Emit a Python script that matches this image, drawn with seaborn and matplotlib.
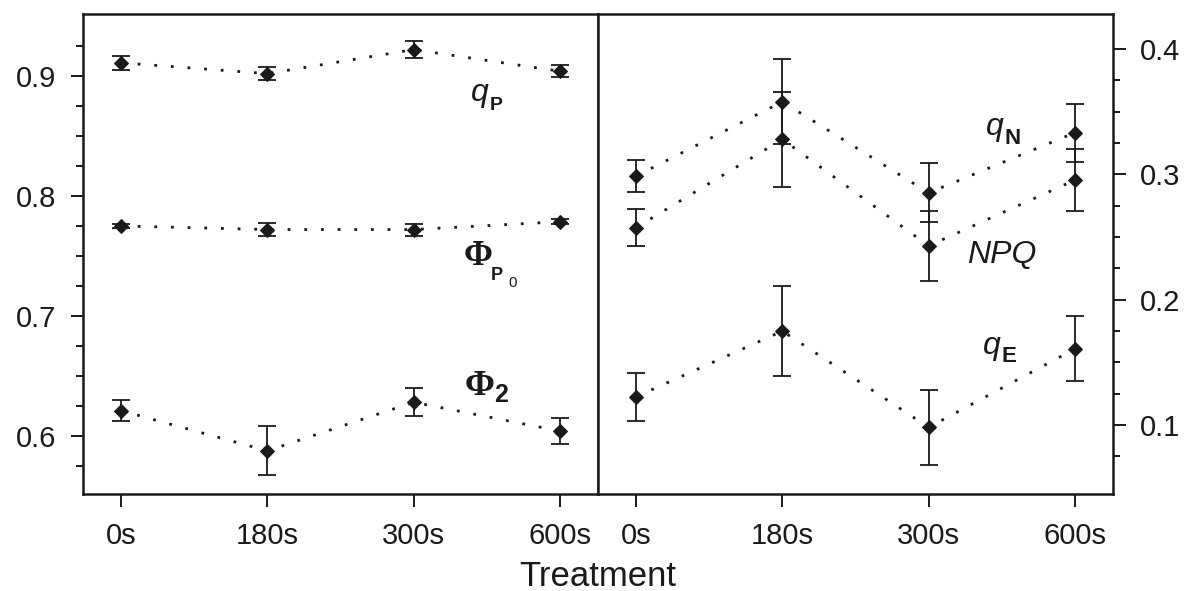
import numpy as np
import pandas as pd
import seaborn as sns
import matplotlib
matplotlib.use('Agg')
from matplotlib import pyplot as plt
from matplotlib.ticker import MultipleLocator, FixedLocator, FormatStrFormatter

# treatments (x categories)
times = ['0s', '180s', '300s', '600s']

# left panel: qP, PhiP0, Phi2 (mean, error)
qP = [0.911, 0.902, 0.922, 0.904]
qP_err = [0.006, 0.0055, 0.007, 0.005]
phiP0 = [0.775, 0.772, 0.772, 0.7785]
phiP0_err = [0.002, 0.0055, 0.005, 0.002]
phi2 = [0.621, 0.5875, 0.628, 0.604]
phi2_err = [0.009, 0.0205, 0.0115, 0.011]

# right panel: qN, NPQ, qE
qN = [0.2987, 0.358, 0.2853, 0.3333]
qN_err = [0.013, 0.034, 0.0235, 0.023]
NPQ = [0.2576, 0.328, 0.243, 0.2955]
NPQ_err = [0.015, 0.038, 0.028, 0.025]
qE = [0.1226, 0.175, 0.0982, 0.1608]
qE_err = [0.019, 0.036, 0.030, 0.026]

sns.set_theme(style='ticks')
plt.rcParams['font.family'] = ['Liberation Sans', 'DejaVu Sans']
plt.rcParams['text.color'] = 'k'

fig = plt.figure(figsize=(11.92, 5.91), dpi=100)
ax1 = fig.add_axes([83 / 1192, 1 - 494 / 591, 515 / 1192, 480 / 591])
ax2 = fig.add_axes([598 / 1192, 1 - 494 / 591, 515 / 1192, 480 / 591])

xpos = np.arange(len(times))


def draw(ax, vals, errs):
    df = pd.DataFrame({'x': xpos, 'y': vals})
    ax.errorbar(xpos, vals, yerr=errs, fmt='none', ecolor='k', elinewidth=1.3,
                capsize=6.5, capthick=1.3, zorder=2)
    sns.lineplot(data=df, x='x', y='y', ax=ax, color='k', linestyle=(0, (1, 5)),
                 linewidth=2, marker='D', markersize=7, markeredgecolor='k',
                 markerfacecolor='k', zorder=3)


draw(ax1, qP, qP_err)
draw(ax1, phiP0, phiP0_err)
draw(ax1, phi2, phi2_err)
draw(ax2, qN, qN_err)
draw(ax2, NPQ, NPQ_err)
draw(ax2, qE, qE_err)

ax1.set_ylim(0.5515, 0.9517)
ax2.set_ylim(0.045, 0.428)
ax1.yaxis.set_minor_locator(FixedLocator(np.arange(0.575, 0.94, 0.025)))
ax2.yaxis.set_minor_locator(FixedLocator(np.arange(0.075, 0.42, 0.025)))
for ax in (ax1, ax2):
    ax.set_xlim(-0.26, 3.26)
    ax.set_xticks(xpos)
    ax.set_xticklabels(times)
    ax.set_xlabel('')
    ax.set_ylabel('')
    ax.yaxis.set_major_locator(MultipleLocator(0.1))
    ax.yaxis.set_major_formatter(FormatStrFormatter('%.1f'))
    ax.tick_params(axis='both', which='major', direction='out', length=9,
                   width=1.4, labelsize=21, color='k', labelcolor='k')
    ax.tick_params(axis='y', which='minor', direction='out', length=5,
                   width=1.4, color='k')
    ax.tick_params(axis='x', pad=11)
    for s in ax.spines.values():
        s.set_color('k')
        s.set_linewidth(1.8)

ax1.tick_params(axis='y', which='both', left=True, right=False, pad=10)
ax2.tick_params(axis='y', which='both', left=False, right=True,
                labelleft=False, labelright=True, pad=10)

sans = ['Liberation Sans', 'DejaVu Sans']
serif = ['Liberation Serif', 'DejaVu Serif']
# labels, left panel
ax1.text(2.39, 0.886, 'q', fontsize=23, style='italic', family=sans, va='center')
ax1.text(2.52, 0.8755, 'P', fontsize=14, weight='bold', family=sans, va='center')
ax1.text(2.34, 0.7495, 'Φ', fontsize=25, weight='bold', family=serif, va='center')
ax1.text(2.53, 0.7335, 'P', fontsize=13, weight='bold', family=sans, va='center')
ax1.text(2.65, 0.7275, '0', fontsize=11, family=sans, va='center')
ax1.text(2.345, 0.641, 'Φ', fontsize=26, weight='bold', family=serif, va='center')
ax1.text(2.55, 0.634, '2', fontsize=18, weight='bold', family=sans, va='center')
# labels, right panel
ax2.text(2.39, 0.338, 'q', fontsize=23, style='italic', family=sans, va='center')
ax2.text(2.52, 0.329, 'N', fontsize=16, weight='bold', family=sans, va='center')
ax2.text(2.26, 0.236, 'NPQ', fontsize=23, style='italic', family=sans, va='center')
ax2.text(2.37, 0.163, 'q', fontsize=23, style='italic', family=sans, va='center')
ax2.text(2.50, 0.155, 'E', fontsize=16, weight='bold', family=sans, va='center')

fig.text(598 / 1192, 1 - 576 / 591, 'Treatment', fontsize=25, ha='center',
         va='center', color='k')

fig.savefig('out.png', dpi=100, facecolor='white')
